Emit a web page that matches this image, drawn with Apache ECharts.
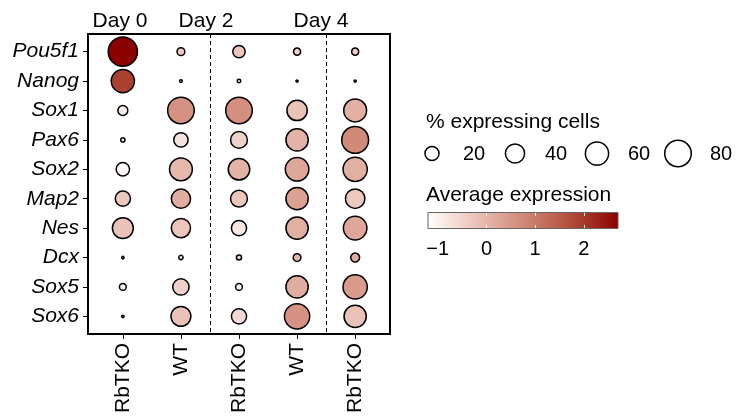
<!DOCTYPE html>
<html><head><meta charset="utf-8">
<script src="https://cdn.jsdelivr.net/npm/echarts@6/dist/echarts.min.js"></script>
<style>html,body{margin:0;padding:0;background:#fff}#c{width:736px;height:416px}</style>
</head><body><div id="c"></div>
<script>
const genes = ['Pou5f1','Nanog','Sox1','Pax6','Sox2','Map2','Nes','Dcx','Sox5','Sox6'];
const samples = ['RbTKO','WT','RbTKO','WT','RbTKO'];
const days = ['Day 0','Day 2','Day 4'];
// % expressing cells, rows = genes, cols = samples
const pctExpressing = [
  [98, 5, 15, 4, 4],
  [60, 0.2, 0.5, 0.05, 0],
  [9, 80, 80, 45, 58],
  [1, 21, 30, 55, 82],
  [18, 58, 51, 62, 66],
  [24, 40, 30, 55, 41],
  [48, 40, 24, 55, 62],
  [0.1, 1, 1.7, 5, 7],
  [3.6, 28, 3.6, 55, 66],
  [0.1, 43, 24, 72, 55]
];
// average expression
const avgExpression = [
  [2.7, -0.35, -0.25, -0.45, -0.45],
  [1.9, -0.8, -0.8, -0.8, -0.8],
  [-0.9, 0.6, 0.65, -0.2, 0.1],
  [-0.8, -0.75, -0.45, 0.05, 0.75],
  [-1.1, -0.05, 0.05, 0.25, 0.1],
  [-0.3, 0.15, -0.25, 0.35, -0.3],
  [-0.2, -0.25, -0.8, 0.1, 0.25],
  [-0.9, -0.6, -0.5, 0, 0.15],
  [-0.9, -0.45, -0.95, 0.15, 0.45],
  [-0.9, -0.2, -0.6, 0.6, -0.2]
];
const sizeBreaks = [20, 40, 60, 80];
const colorTicks = [-1, 0, 1, 2];
const colorMin = -1.2, colorMax = 2.7;
const colorStops = ['#FFFFFF', '#EBC3B9', '#D18978', '#B14F3B', '#8B0000'];

const FONT = '"Liberation Sans", Arial, Helvetica, sans-serif';
function dotSize(p){ return Math.max(2.2, 1.5 + 28*Math.sqrt(p/100)); }

const data = [];
genes.forEach((g, gi) => samples.forEach((s, si) => {
  data.push([si, gi, pctExpressing[gi][si], avgExpression[gi][si]]);
}));

const chart = echarts.init(document.getElementById('c'), null, {renderer:'canvas'});

// colorbar geometry
const cbX = 428, cbY = 212.5, cbW = 190, cbH = 16;
const cbPos = v => cbX + (v - colorMin) / (colorMax - colorMin) * cbW;
const graphic = [];
// size legend
graphic.push({type:'text', x:426, y:122, style:{text:'% expressing cells', font:'21px '+FONT, fill:'#000', verticalAlign:'middle'}});
const legCx = [432, 515, 597, 678], legLx = [474, 556, 639, 721];
sizeBreaks.forEach((b, i) => {
  graphic.push({type:'circle', shape:{cx:legCx[i], cy:153.5, r:dotSize(b)/2}, style:{fill:'#fff', stroke:'#000', lineWidth:1.5}});
  graphic.push({type:'text', x:legLx[i], y:154, style:{text:String(b), font:'20px '+FONT, fill:'#000', align:'center', verticalAlign:'middle'}});
});
// color legend
graphic.push({type:'text', x:426, y:195, style:{text:'Average expression', font:'21px '+FONT, fill:'#000', verticalAlign:'middle'}});
graphic.push({type:'rect', shape:{x:cbX, y:cbY, width:cbW, height:cbH}, style:{
  fill: new echarts.graphic.LinearGradient(0,0,1,0, colorStops.map((c,i)=>({offset:i/(colorStops.length-1), color:c}))),
  stroke:'#666', lineWidth:1}});
colorTicks.forEach(v => {
  const x = Math.round(cbPos(v)) + 0.5;
  if (v > colorMin + 0.3) {
    graphic.push({type:'line', shape:{x1:x, y1:cbY+0.5, x2:x, y2:cbY+3.5}, style:{stroke:'#fff', lineWidth:1}});
    graphic.push({type:'line', shape:{x1:x, y1:cbY+cbH-3.5, x2:x, y2:cbY+cbH-0.5}, style:{stroke:'#fff', lineWidth:1}});
  }
  graphic.push({type:'text', x:cbPos(v), y:249, style:{text: v < 0 ? '\u2212' + Math.abs(v) : String(v), font:'20px '+FONT, fill:'#000', align:'center', verticalAlign:'middle'}});
});
// day labels
const dayX = [120, 206, 321];
days.forEach((d, i) => graphic.push({type:'text', x:dayX[i], y:21, style:{text:d, font:'21px '+FONT, fill:'#000', align:'center', verticalAlign:'middle'}}));

chart.setOption({
  animation:false,
  backgroundColor:'#fff',
  grid:{left:88, right:346, top:34, bottom:79, show:true, borderColor:'#000', borderWidth:2, backgroundColor:'transparent'},
  xAxis:{type:'value', min:-0.6, max:4.6, splitLine:{show:false}, axisLine:{show:false, onZero:false},
    axisTick:{show:true, customValues:[0,1,2,3,4], length:5, lineStyle:{color:'#000', width:1}},
    axisLabel:{customValues:[0,1,2,3,4], rotate:90, margin:9, formatter:v=>samples[Math.round(v)], color:'#000', fontSize:21, fontFamily:FONT}},
  yAxis:{type:'value', inverse:true, min:-0.6, max:9.6, splitLine:{show:false}, axisLine:{show:false, onZero:false},
    axisTick:{show:true, customValues:[0,1,2,3,4,5,6,7,8,9], length:5, lineStyle:{color:'#000', width:1}},
    axisLabel:{customValues:[0,1,2,3,4,5,6,7,8,9], margin:9, formatter:v=>genes[Math.round(v)], color:'#000', fontSize:21, fontStyle:'italic', fontFamily:FONT}},
  visualMap:{show:false, type:'continuous', dimension:3, min:colorMin, max:colorMax, inRange:{color:colorStops}, seriesIndex:0},
  series:[{
    type:'scatter', data:data,
    symbolSize: v => dotSize(v[2]),
    itemStyle:{borderColor:'#000', borderWidth:1.5, opacity:1},
    markLine:{silent:true, symbol:'none', label:{show:false},
      lineStyle:{color:'#000', type:[4,3], width:1},
      data:[{xAxis:1.5},{xAxis:3.5}]}
  }],
  graphic: graphic
});
</script></body></html>
